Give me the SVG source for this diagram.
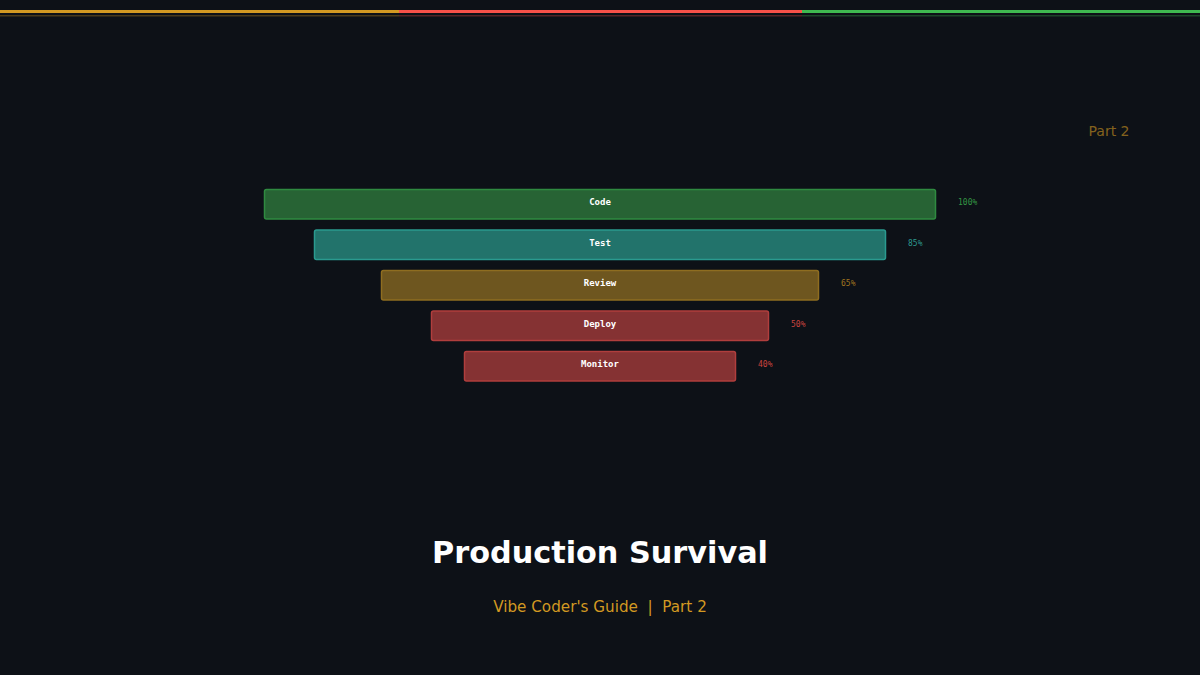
<svg xmlns="http://www.w3.org/2000/svg" width="1200" height="675" viewBox="0 0 1200 675">
<style>
.bar{stroke-width:1.5}
.lbl{font-family:"DejaVu Sans Mono","Liberation Mono",monospace;font-size:9px;font-weight:bold;fill:#ffffff;text-anchor:middle}
.pct{font-family:"DejaVu Sans Mono","Liberation Mono",monospace;font-size:8px}
</style>
<rect width="1200" height="675" fill="#0d1117"/>
<g id="topbar">
<rect x="0" y="10" width="399" height="3" fill="#d29922"/>
<rect x="399" y="10" width="403" height="3" fill="#f85149"/>
<rect x="802" y="10" width="398" height="3" fill="#3fb950"/>
<rect x="0" y="15" width="399" height="1.5" fill="#d29922" opacity="0.3"/>
<rect x="399" y="15" width="403" height="1.5" fill="#f85149" opacity="0.3"/>
<rect x="802" y="15" width="398" height="1.5" fill="#3fb950" opacity="0.3"/>
</g>
<text x="1109" y="136" font-family="DejaVu Sans,sans-serif" font-size="14" fill="#d29922" opacity="0.6" text-anchor="middle">Part 2</text>
<g id="code">
<rect class="bar" x="264.5" y="189.5" width="671" height="29.5" rx="2" fill="#276334" stroke="#2f8a40"/>
<text class="lbl" x="600" y="205">Code</text>
<text class="pct" x="958" y="205" fill="#3fb950" fill-opacity="0.8">100%</text>
</g>
<g id="test">
<rect class="bar" x="314.5" y="230" width="571" height="29.5" rx="2" fill="#22736b" stroke="#2a9a8f"/>
<text class="lbl" x="600" y="245.5">Test</text>
<text class="pct" x="908" y="245.5" fill="#39c5bb" fill-opacity="0.75">85%</text>
</g>
<g id="review">
<rect class="bar" x="381.5" y="270.5" width="437" height="29.5" rx="2" fill="#6e561f" stroke="#8e6d20"/>
<text class="lbl" x="600" y="286">Review</text>
<text class="pct" x="841" y="286" fill="#d29922" fill-opacity="0.75">65%</text>
</g>
<g id="deploy">
<rect class="bar" x="431.5" y="311" width="337" height="29.5" rx="2" fill="#853233" stroke="#b03e3d"/>
<text class="lbl" x="600" y="326.5">Deploy</text>
<text class="pct" x="791" y="326.5" fill="#f85149" fill-opacity="0.8">50%</text>
</g>
<g id="monitor">
<rect class="bar" x="464.5" y="351.5" width="271" height="29.5" rx="2" fill="#853233" stroke="#b03e3d"/>
<text class="lbl" x="600" y="367">Monitor</text>
<text class="pct" x="758" y="367" fill="#f85149" fill-opacity="0.8">40%</text>
</g>
<g id="connectors"></g>
<text x="600" y="563" font-family="DejaVu Sans,sans-serif" font-size="30.3" font-weight="bold" fill="#ffffff" text-anchor="middle">Production Survival</text>
<text x="600" y="612" font-family="DejaVu Sans,sans-serif" font-size="15.2" fill="#d29922" text-anchor="middle" xml:space="preserve" style="white-space:pre">Vibe Coder's Guide  |  Part 2</text>
</svg>
